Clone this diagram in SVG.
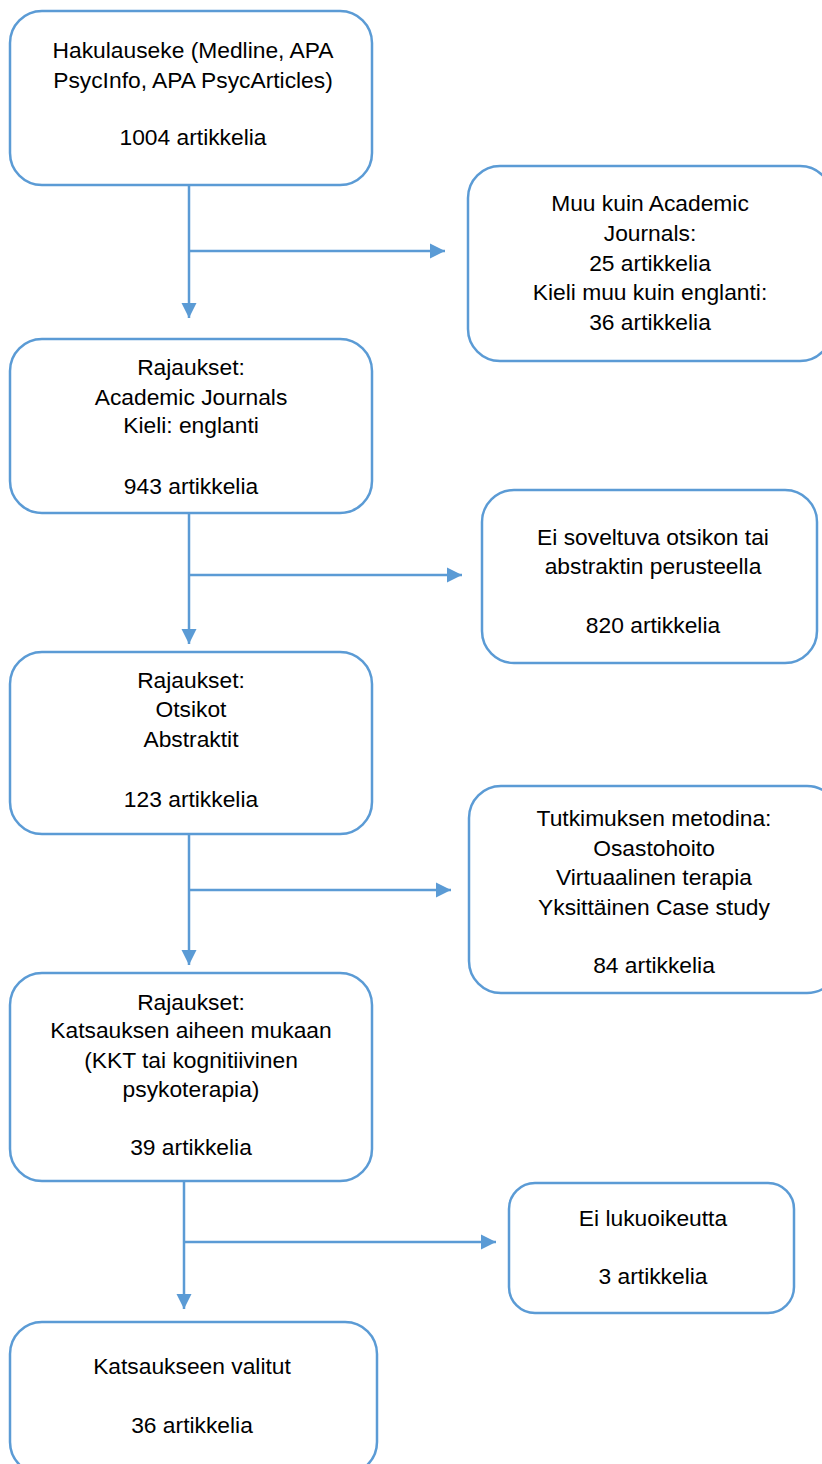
<svg xmlns="http://www.w3.org/2000/svg" width="822" height="1464" viewBox="0 0 822 1464">
<style>
.box{fill:#fff;stroke:#5B9BD5;stroke-width:2.5}
.t{font-family:"Liberation Sans",Arial,sans-serif;font-size:22.8px;fill:#000;text-anchor:middle}
.c{fill:none;stroke:#5B9BD5;stroke-width:2.5}
</style>
<defs>
<marker id="ah" markerUnits="userSpaceOnUse" markerWidth="16" markerHeight="16" viewBox="0 0 16 16" refX="15" refY="8" orient="auto">
<polygon points="0,0.5 15,8 0,15.5" fill="#5B9BD5"/>
</marker>
</defs>
<rect width="822" height="1464" fill="#fff"/>
<g id="connectors">
<line class="c" x1="189" y1="186" x2="189" y2="318" marker-end="url(#ah)"/>
<line class="c" x1="189" y1="251" x2="445" y2="251" marker-end="url(#ah)"/>
<line class="c" x1="189" y1="514" x2="189" y2="644" marker-end="url(#ah)"/>
<line class="c" x1="189" y1="575" x2="462" y2="575" marker-end="url(#ah)"/>
<line class="c" x1="189" y1="834" x2="189" y2="965" marker-end="url(#ah)"/>
<line class="c" x1="189" y1="890" x2="451" y2="890" marker-end="url(#ah)"/>
<line class="c" x1="184" y1="1181" x2="184" y2="1309" marker-end="url(#ah)"/>
<line class="c" x1="184" y1="1242" x2="496" y2="1242" marker-end="url(#ah)"/>
</g>
<g id="n1">
<rect class="box" x="10" y="11" width="362" height="174" rx="32"/>
<text class="t" x="193" y="58">Hakulauseke (Medline, APA</text>
<text class="t" x="193" y="88">PsycInfo, APA PsycArticles)</text>
<text class="t" x="193" y="145">1004 artikkelia</text>
</g>
<g id="n2">
<rect class="box" x="468" y="166" width="364" height="195" rx="32"/>
<text class="t" x="650" y="211">Muu kuin Academic</text>
<text class="t" x="650" y="241">Journals:</text>
<text class="t" x="650" y="271">25 artikkelia</text>
<text class="t" x="650" y="300">Kieli muu kuin englanti:</text>
<text class="t" x="650" y="330">36 artikkelia</text>
</g>
<g id="n3">
<rect class="box" x="10" y="339" width="362" height="174" rx="32"/>
<text class="t" x="191" y="375">Rajaukset:</text>
<text class="t" x="191" y="405">Academic Journals</text>
<text class="t" x="191" y="433">Kieli: englanti</text>
<text class="t" x="191" y="494">943 artikkelia</text>
</g>
<g id="n4">
<rect class="box" x="482" y="490" width="335" height="173" rx="32"/>
<text class="t" x="653" y="545">Ei soveltuva otsikon tai</text>
<text class="t" x="653" y="574">abstraktin perusteella</text>
<text class="t" x="653" y="633">820 artikkelia</text>
</g>
<g id="n5">
<rect class="box" x="10" y="652" width="362" height="182" rx="32"/>
<text class="t" x="191" y="688">Rajaukset:</text>
<text class="t" x="191" y="717">Otsikot</text>
<text class="t" x="191" y="747">Abstraktit</text>
<text class="t" x="191" y="807">123 artikkelia</text>
</g>
<g id="n6">
<rect class="box" x="469" y="786" width="370" height="207" rx="32"/>
<text class="t" x="654" y="826">Tutkimuksen metodina:</text>
<text class="t" x="654" y="856">Osastohoito</text>
<text class="t" x="654" y="885">Virtuaalinen terapia</text>
<text class="t" x="654" y="915">Yksittäinen Case study</text>
<text class="t" x="654" y="973">84 artikkelia</text>
</g>
<g id="n7">
<rect class="box" x="10" y="973" width="362" height="208" rx="32"/>
<text class="t" x="191" y="1010">Rajaukset:</text>
<text class="t" x="191" y="1038">Katsauksen aiheen mukaan</text>
<text class="t" x="191" y="1068">(KKT tai kognitiivinen</text>
<text class="t" x="191" y="1097">psykoterapia)</text>
<text class="t" x="191" y="1155">39 artikkelia</text>
</g>
<g id="n8">
<rect class="box" x="509" y="1183" width="285" height="130" rx="26"/>
<text class="t" x="653" y="1226">Ei lukuoikeutta</text>
<text class="t" x="653" y="1284">3 artikkelia</text>
</g>
<g id="n9">
<rect class="box" x="10" y="1322" width="367" height="152" rx="32"/>
<text class="t" x="192" y="1374">Katsaukseen valitut</text>
<text class="t" x="192" y="1433">36 artikkelia</text>
</g>
</svg>
